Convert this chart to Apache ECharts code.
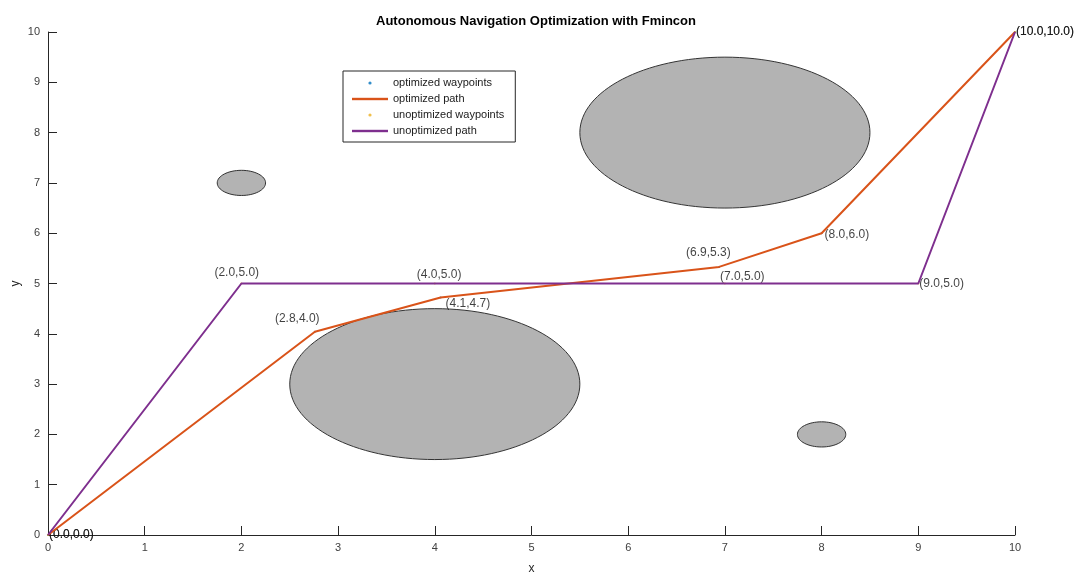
<!DOCTYPE html>
<html>
<head>
<meta charset="utf-8">
<script src="https://cdn.jsdelivr.net/npm/echarts@6/dist/echarts.min.js"></script>
<style>
html,body{margin:0;padding:0;background:#fff;}
#chart{width:1080px;height:577px;}
</style>
</head>
<body>
<div id="chart"></div>
<script>
// ---- data ----
const optX = [0, 2.76, 4.06, 6.94, 8.0, 10.0];
const optY = [0, 4.04, 4.72, 5.33, 6.0, 10.0];
const unoptX = [0, 2, 4, 7, 9, 10];
const unoptY = [0, 5, 5, 5, 5, 10];
const obstacleX = [7, 4, 2, 8];
const obstacleY = [8, 3, 7, 2];
const obstacleR = [1.5, 1.5, 0.25, 0.25];
const seriesNames = ['optimized waypoints', 'optimized path', 'unoptimized waypoints', 'unoptimized path'];
// label shifts (pixels) for waypoint annotations
const optLabelShift = [[0,0],[-41,-13],[4,6],[-34,-14],[2,1],[0,0]];
const unoptLabelShift = [[0,0],[-28,-11],[-19,-9],[-6,-7],[0,0],[0,0]];

const C_BLUE = '#0072BD', C_ORANGE = '#D95319', C_YELLOW = '#EDB120', C_PURPLE = '#7E2F8E';
const AX = '#262626';
const FONT = 'Liberation Sans, Arial, sans-serif';

function pts(xs, ys){ return xs.map((x,i)=>[x, ys[i]]); }
function labeled(xs, ys, shifts){
  return xs.map((x,i)=>({
    value:[x, ys[i]],
    label:{offset: shifts[i]}
  }));
}
function svgIcon(inner){
  const svg = "<svg xmlns='http://www.w3.org/2000/svg' width='36' height='12'>" + inner + "</svg>";
  return 'image://data:image/svg+xml;charset=utf-8,' + encodeURIComponent(svg);
}
function dotIcon(color){ return svgIcon("<circle cx='18' cy='6' r='1.6' fill='" + color + "'/>"); }
function lineIcon(color){ return svgIcon("<rect x='0' y='4.8' width='36' height='2.4' fill='" + color + "'/>"); }

const chart = echarts.init(document.getElementById('chart'), null, {renderer:'canvas'});
const labelStyle = {
  show:true, position:'right', distance:0,
  formatter: p => '(' + p.value[0].toFixed(1) + ',' + p.value[1].toFixed(1) + ')',
  color:'#111', fontSize:12, fontFamily:FONT
};

const option = {
  backgroundColor:'#fff',
  animation:false,
  title:{
    text:'Autonomous Navigation Optimization with Fmincon',
    left:531, top:10, textAlign:'center',
    textStyle:{fontSize:13, fontWeight:'bold', color:'#000', fontFamily:FONT}
  },
  legend:{
    orient:'vertical', left:343, top:71,
    padding:[6,11,5,9], itemWidth:36, itemHeight:12, itemGap:4,
    borderColor:AX, borderWidth:1, backgroundColor:'#fff',
    textStyle:{fontSize:11, color:'#1a1a1a', fontFamily:FONT},
    data:[
      {name:seriesNames[0], icon:dotIcon(C_BLUE)},
      {name:seriesNames[1], icon:lineIcon(C_ORANGE)},
      {name:seriesNames[2], icon:dotIcon(C_YELLOW)},
      {name:seriesNames[3], icon:lineIcon(C_PURPLE)}
    ]
  },
  grid:{left:48, right:65, top:32, bottom:42, containLabel:false, outerBoundsMode:'none'},
  xAxis:{
    type:'value', min:0, max:10, interval:1,
    name:'x', nameLocation:'middle', nameGap:28,
    nameTextStyle:{fontSize:12, color:AX, fontFamily:FONT},
    axisLine:{show:true, onZero:false, lineStyle:{color:AX, width:1}},
    axisTick:{show:true, inside:true, length:9, lineStyle:{color:AX}},
    axisLabel:{fontSize:11, color:'#404040', margin:7, fontFamily:FONT},
    splitLine:{show:false}
  },
  yAxis:{
    type:'value', min:0, max:10, interval:1,
    name:'y', nameLocation:'middle', nameGap:26, nameRotate:90, nameMoveOverlap:false,
    nameTextStyle:{fontSize:12, color:AX, fontFamily:FONT},
    axisLine:{show:true, onZero:false, lineStyle:{color:AX, width:1}},
    axisTick:{show:true, inside:true, length:9, lineStyle:{color:AX}},
    axisLabel:{fontSize:11, color:'#404040', margin:8, fontFamily:FONT},
    splitLine:{show:false}
  },
  series:[
    {
      type:'custom', name:'obstacles', silent:true, z:1,
      data: obstacleX.map((x,i)=>[x, obstacleY[i], obstacleR[i]]),
      renderItem:(params, api)=>{
        const c = api.coord([api.value(0), api.value(1)]);
        const s = api.size([api.value(2), api.value(2)]);
        return {
          type:'ellipse',
          shape:{cx:c[0], cy:c[1], rx:s[0], ry:s[1]},
          style:{fill:'#b3b3b3', stroke:'#333', lineWidth:1}
        };
      }
    },
    {
      name:seriesNames[0], type:'scatter', z:2,
      symbol:'circle', symbolSize:2,
      itemStyle:{color:C_BLUE},
      label:labelStyle,
      data: labeled(optX, optY, optLabelShift)
    },
    {
      name:seriesNames[1], type:'line', z:3,
      showSymbol:false, symbol:'none',
      lineStyle:{color:C_ORANGE, width:2},
      itemStyle:{color:C_ORANGE},
      data: pts(optX, optY)
    },
    {
      name:seriesNames[2], type:'scatter', z:2,
      symbol:'circle', symbolSize:2,
      itemStyle:{color:C_YELLOW},
      label:labelStyle,
      data: labeled(unoptX, unoptY, unoptLabelShift)
    },
    {
      name:seriesNames[3], type:'line', z:4,
      showSymbol:false, symbol:'none',
      lineStyle:{color:C_PURPLE, width:2},
      itemStyle:{color:C_PURPLE},
      data: pts(unoptX, unoptY)
    }
  ]
};
chart.setOption(option);
</script>
</body>
</html>
